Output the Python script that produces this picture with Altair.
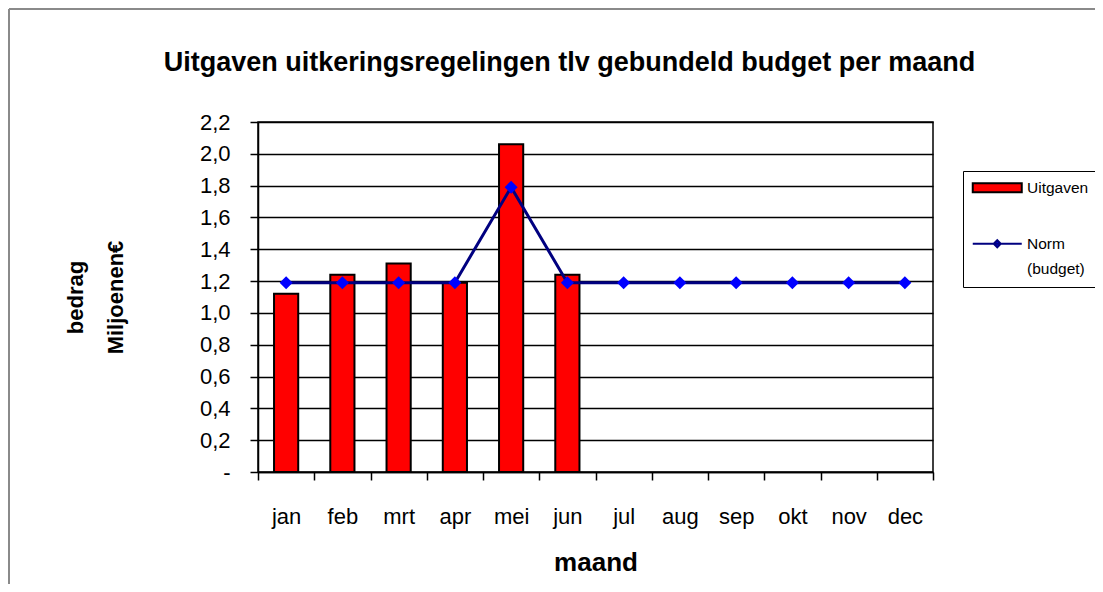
import altair as alt
import pandas as pd

MONTHS = ["jan", "feb", "mrt", "apr", "mei", "jun", "jul", "aug", "sep", "okt", "nov", "dec"]
UITGAVEN = [1.12, 1.24, 1.31, 1.19, 2.06, 1.24, None, None, None, None, None, None]
NORM = [1.19, 1.19, 1.19, 1.19, 1.79, 1.19, 1.19, 1.19, 1.19, 1.19, 1.19, 1.19]
Y_TICKS = [0.0, 0.2, 0.4, 0.6, 0.8, 1.0, 1.2, 1.4, 1.6, 1.8, 2.0, 2.2]
SERIES = ["Uitgaven", "Norm (budget)"]
TITLE = "Uitgaven uitkeringsregelingen tlv gebundeld budget per maand"
X_TITLE = "maand"
Y_TITLE = ["bedrag", "Miljoenen€"]

bars = pd.DataFrame({"maand": MONTHS, "waarde": UITGAVEN, "reeks": SERIES[0]}).dropna()
norm = pd.DataFrame({"maand": MONTHS, "waarde": NORM, "reeks": SERIES[1]})

FONT = "Liberation Sans"
W, H = 675, 350

x_enc = alt.X(
    "maand:N",
    sort=MONTHS,
    scale=alt.Scale(domain=MONTHS, paddingInner=0, paddingOuter=0),
    axis=alt.Axis(
        title=X_TITLE, labelAngle=0, tickBand="extent", grid=False,
        tickSize=8, labelPadding=26, labelFontSize=22, labelFont=FONT,
        titleFont=FONT, titleFontSize=26, titleFontWeight="bold",
        titleY=98, titleBaseline="alphabetic",
    ),
)
y_enc = alt.Y(
    "waarde:Q",
    scale=alt.Scale(domain=[0, 2.2], nice=False, zero=True),
    axis=alt.Axis(
        title=Y_TITLE, values=Y_TICKS,
        labelExpr="datum.value == 0 ? '-' : replace(format(datum.value, '.1f'), '.', ',')",
        tickSize=8, labelPadding=20, labelFontSize=22, labelFont=FONT,
        gridColor="#000000", gridWidth=1.5, gridOpacity=1,
        titleFont=FONT, titleFontSize=22, titleFontWeight="bold",
        titleAngle=-90, titleX=-183, titleY=175, titleAlign="center",
        titleBaseline="middle", titleLineHeight=40,
    ),
)

RECT_PATH = "M-1.4,-0.9H8.4V0.9H-1.4Z"
LINE_PATH = "M-1.4,0H8.4M2.8,0L3.5,-0.7L4.2,0L3.5,0.7Z"

fill_enc = alt.Fill(
    "reeks:N",
    scale=alt.Scale(domain=SERIES, range=["#FF0000", "#0000FF"]),
    legend=alt.Legend(
        title=None, orient="none", legendX=705, legendY=49,
        padding=9, strokeColor="black", fillColor="white", cornerRadius=0,
        symbolType={"expr": f"datum.value === 'Uitgaven' ? '{RECT_PATH}' : '{LINE_PATH}'"},
        symbolStrokeColor={"expr": "datum.value === 'Uitgaven' ? '#000000' : '#000080'"},
        symbolSize=100, symbolStrokeWidth=2, symbolOpacity=1,
        labelExpr="datum.label == 'Norm (budget)' ? ['Norm', '(budget)'] : datum.label",
        labelFont=FONT, labelFontSize=15.5, labelOffset=39.5, rowPadding=39,
        labelColor="black",
    ),
)

bar_layer = alt.Chart(bars).mark_bar(
    strokeWidth=2, width=alt.RelativeBandSize(0.43)
).encode(x=x_enc, y=y_enc, fill=fill_enc, stroke=alt.value("black"))

line_layer = alt.Chart(norm).mark_line(strokeWidth=3, color="#000080").encode(
    x=x_enc, y=y_enc
)

point_layer = alt.Chart(norm).mark_point(
    shape="diamond", filled=True, size=170, color="#0000FF", opacity=1
).encode(x=x_enc, y=y_enc)

frame_data = alt.Data(values=[{"k": 1}])
frame_top = alt.Chart(frame_data).mark_rule(color="#8a8a8a", strokeWidth=2).encode(
    x=alt.value(-249), x2=alt.value(837), y=alt.value(-113)
)
frame_left = alt.Chart(frame_data).mark_rule(color="#8a8a8a", strokeWidth=2).encode(
    x=alt.value(-249), y=alt.value(-113), y2=alt.value(462)
)

chart = alt.layer(frame_top, frame_left, bar_layer, line_layer, point_layer).properties(
    width=W, height=H,
    title=alt.TitleParams(
        TITLE, font=FONT, fontSize=27, fontWeight="bold", anchor="middle",
        frame="group", dx=-26, dy=90, offset=0, baseline="alphabetic", color="black",
    ),
    autosize=alt.AutoSizeParams(type="none"),
    padding={"left": 250, "top": 114, "right": 162, "bottom": 112},
    background="white",
).configure(
    style={"guide-label": {"lineHeight": 25}}
).configure_view(
    stroke="black", strokeWidth=1.5
).configure_axis(
    domainColor="black", tickColor="black", gridColor="black", gridOpacity=1,
    labelColor="black", titleColor="black", domainWidth=1.5, tickWidth=1.5, gridWidth=1.5,
)

chart.save("out.html", embed_options={"renderer": "svg", "actions": False})
